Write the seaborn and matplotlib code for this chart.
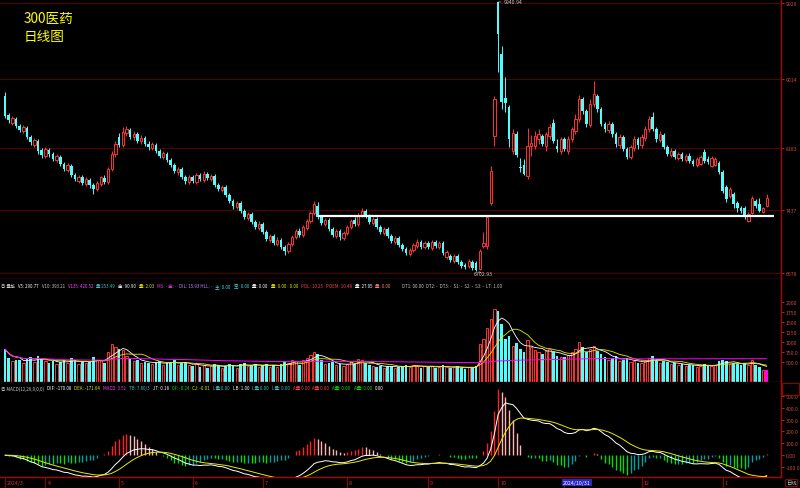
import numpy as np
import pandas as pd
import matplotlib
matplotlib.use("Agg")
import matplotlib.pyplot as plt
import seaborn as sns

# 300医药 日线 (2024/3 ~ 2025/1)
opens = [8809, 8580, 8484, 8532, 8448, 8388, 8424, 8316, 8219, 8267, 8159,
         8087, 8159, 8111, 8039, 8075, 7990, 7918, 7966, 7858, 7786, 7834, 7750, 7798, 7738, 7689, 7750, 7822, 7774, 7930, 8111,
         8316, 8219, 8364, 8400, 8316, 8352, 8267, 8304, 8231, 8183, 8219, 8147, 8075, 8111, 8039, 7978, 7894, 7930, 7834, 7774,
         7834, 7774, 7858, 7798, 7870, 7810, 7846, 7738, 7677, 7714, 7617, 7545, 7473, 7521, 7425, 7340, 7388, 7292, 7220,
         7268, 7172, 7075, 7123, 7027, 7075, 6991, 6943, 7027, 7111, 7184, 7136, 7220, 7304, 7400, 7485, 7352, 7268, 7316, 7208, 7123, 7184, 7099,
         7160, 7232, 7316, 7268, 7376, 7425, 7364, 7280, 7328, 7232, 7160, 7208, 7123, 7051, 7099, 7015, 6967, 6907, 6955, 7003, 7051, 6991,
         7039, 6979, 7051, 6991, 7039, 6871, 6883, 6823, 6883, 6811, 6774, 6762, 6811, 6799, 6726, 7003, 7003, 7521, 8328,
         9941, 9315, 8785, 8677, 8147, 8352, 7954, 7978, 7846, 8207, 8207, 8291, 8328, 8207, 8328, 8484, 8207, 8147,
         8291, 8147, 8291, 8388, 8532, 8773, 8629, 8460, 8713, 8809, 8653, 8472, 8400, 8472, 8352, 8219, 8316, 8171, 8075, 8183, 8291,
         8219, 8304, 8412, 8556, 8412, 8279, 8340, 8195, 8099, 8147, 8063, 8111, 8039, 8087, 8027, 7978, 7990, 8135, 8051, 7966, 7978, 8003,
         7894, 7714, 7605, 7629, 7521, 7461, 7461, 7304, 7400, 7545, 7509, 7413, 7485]
closes = [8568, 8520, 8544, 8448, 8400, 8436, 8316, 8255, 8279, 8147, 8099,
          8171, 8111, 8051, 8087, 7990, 7930, 7978, 7858, 7810, 7834, 7762, 7810, 7738, 7689, 7762, 7834, 7774, 7930, 8111, 8231,
          8219, 8376, 8412, 8316, 8352, 8267, 8304, 8231, 8195, 8231, 8147, 8087, 8123, 8039, 7978, 7906, 7930, 7834, 7786, 7834,
          7786, 7858, 7810, 7870, 7822, 7846, 7738, 7689, 7714, 7617, 7545, 7485, 7521, 7425, 7352, 7388, 7292, 7232, 7268,
          7172, 7087, 7123, 7039, 7075, 6991, 6943, 7027, 7111, 7184, 7136, 7232, 7304, 7400, 7509, 7352, 7280, 7316, 7208, 7136, 7184, 7111, 7160,
          7232, 7304, 7268, 7376, 7425, 7364, 7292, 7328, 7232, 7172, 7208, 7123, 7063, 7099, 7015, 6967, 6919, 6955, 7015, 7051, 6991, 7039,
          6991, 7051, 7003, 7039, 6919, 6931, 6835, 6883, 6811, 6762, 6750, 6823, 6738, 6714, 6943, 7039, 7352, 7906, 8773,
          9556, 8737, 8725, 8291, 8364, 8099, 7942, 7870, 8207, 8243, 8328, 8352, 8231, 8352, 8436, 8267, 8171, 8291,
          8171, 8291, 8412, 8532, 8773, 8629, 8472, 8713, 8833, 8653, 8472, 8412, 8472, 8352, 8231, 8316, 8171, 8075, 8195, 8291, 8219,
          8316, 8412, 8532, 8412, 8291, 8352, 8195, 8111, 8147, 8075, 8111, 8051, 8087, 8027, 7990, 8051, 8075, 8027, 8015, 8063, 8051, 7894,
          7665, 7569, 7689, 7509, 7461, 7425, 7352, 7388, 7581, 7485, 7425, 7461, 7581]
highs = [8857, 8605, 8568, 8556, 8472, 8460, 8448, 8340, 8304, 8291, 8183,
         8195, 8183, 8135, 8111, 8099, 8015, 8003, 7990, 7882, 7858, 7858, 7834, 7822, 7762, 7786, 7846, 7858, 7954, 8147, 8267,
         8364, 8436, 8448, 8424, 8388, 8376, 8340, 8328, 8267, 8255, 8243, 8171, 8147, 8135, 8063, 8003, 7954, 7954, 7858, 7858,
         7858, 7882, 7882, 7906, 7894, 7870, 7870, 7762, 7738, 7738, 7641, 7569, 7545, 7545, 7449, 7413, 7413, 7316, 7304,
         7292, 7196, 7148, 7148, 7111, 7099, 7015, 7051, 7136, 7208, 7220, 7256, 7328, 7425, 7545, 7533, 7376, 7340, 7340, 7232, 7208, 7208, 7184,
         7256, 7328, 7352, 7400, 7461, 7449, 7388, 7352, 7352, 7256, 7232, 7232, 7148, 7123, 7123, 7039, 6991, 6979, 7039, 7087, 7075, 7063,
         7063, 7075, 7075, 7063, 7063, 6955, 6907, 6907, 6907, 6835, 6799, 6847, 6835, 6823, 6967, 7172, 7376, 7966, 8809,
         9941, 9411, 9038, 8701, 8412, 8388, 8063, 8051, 8424, 8340, 8388, 8412, 8352, 8376, 8472, 8532, 8291, 8316,
         8316, 8328, 8436, 8592, 8821, 8797, 8653, 8773, 8990, 8833, 8677, 8496, 8508, 8496, 8376, 8352, 8340, 8195, 8219, 8328, 8316,
         8352, 8448, 8568, 8617, 8436, 8388, 8364, 8219, 8183, 8171, 8135, 8135, 8111, 8123, 8051, 8075, 8099, 8171, 8087, 8087, 8075, 8027,
         7918, 7738, 7714, 7653, 7545, 7485, 7485, 7413, 7605, 7569, 7581, 7473, 7629]
lows = [8544, 8484, 8460, 8424, 8376, 8364, 8291, 8219, 8195, 8111, 8063,
        8063, 8075, 8027, 8015, 7966, 7906, 7894, 7834, 7786, 7762, 7738, 7726, 7702, 7629, 7665, 7726, 7750, 7750, 7906, 8075,
        8195, 8195, 8328, 8291, 8279, 8243, 8231, 8207, 8159, 8159, 8123, 8063, 8051, 8015, 7954, 7882, 7858, 7810, 7750, 7750,
        7762, 7750, 7786, 7774, 7798, 7786, 7714, 7665, 7653, 7593, 7521, 7449, 7449, 7400, 7328, 7316, 7268, 7208, 7196,
        7148, 7063, 7051, 7015, 7003, 6967, 6895, 6919, 7003, 7087, 7111, 7111, 7196, 7280, 7376, 7328, 7256, 7244, 7184, 7111, 7099, 7075, 7075,
        7136, 7208, 7244, 7244, 7352, 7340, 7268, 7256, 7208, 7148, 7136, 7099, 7039, 7027, 6991, 6943, 6895, 6883, 6931, 6979, 6967, 6967,
        6967, 6955, 6979, 6967, 6895, 6847, 6811, 6799, 6786, 6738, 6726, 6738, 6714, 6703, 6714, 6979, 6967, 7497, 8207,
        9098, 8653, 8617, 8195, 8111, 8075, 7894, 7858, 7810, 8087, 8171, 8231, 8207, 8147, 8291, 8243, 8135, 8111,
        8147, 8111, 8255, 8352, 8496, 8592, 8436, 8436, 8677, 8617, 8448, 8376, 8364, 8316, 8195, 8183, 8147, 8051, 8051, 8147, 8171,
        8183, 8267, 8376, 8388, 8255, 8255, 8171, 8087, 8075, 8051, 8039, 8027, 8015, 8003, 7966, 7954, 7978, 8003, 7990, 7954, 7966, 7870,
        7641, 7533, 7581, 7461, 7413, 7400, 7328, 7292, 7388, 7461, 7413, 7400, 7473]
volumes = [820, 610, 520, 560, 540, 470, 580, 620, 510, 640, 590,
           520, 480, 530, 450, 510, 560, 470, 590, 540, 460, 520, 480, 500, 620, 560, 540, 470, 760, 940, 880,
           820, 790, 640, 580, 520, 540, 480, 510, 470, 450, 490, 520, 430, 470, 510, 540, 420, 480, 500, 420,
           400, 450, 380, 430, 360, 390, 440, 420, 350, 400, 460, 430, 360, 440, 480, 400, 420, 450, 380,
           420, 460, 380, 430, 370, 440, 520, 480, 560, 520, 430, 540, 600, 680, 760, 700, 560, 450, 480, 500, 420, 440, 400,
           460, 520, 440, 580, 560, 470, 430, 400, 380, 410, 360, 390, 410, 350, 380, 400, 420, 380, 430, 410, 360, 390,
           380, 410, 350, 370, 420, 380, 340, 370, 390, 350, 330, 380, 360, 400, 960, 1080, 1350, 1580, 1830,
           1780, 1460, 1080, 1150, 900, 980, 820, 760, 1050, 880, 800, 760, 700, 780, 820, 760, 640, 620,
           620, 680, 760, 820, 1000, 880, 760, 820, 900, 780, 700, 620, 560, 600, 640, 520, 560, 600, 500, 520, 470,
           480, 520, 600, 640, 560, 480, 520, 500, 440, 470, 420, 450, 400, 430, 420, 380, 400, 450, 390, 410, 430, 520,
           560, 520, 440, 480, 450, 420, 470, 430, 560, 420, 380, 300, 290]

month_labels = ["2024/3", "4", "5", "6", "7", "8", "9", "10", "11", "12", "1"]
month_days = [11, 20, 20, 19, 23, 22, 19, 18, 21, 22, 13]
cursor_label = "2024/10/31"
price_ticks = [9929, 9014, 8183, 7437, 6678]
vol_ticks = [500, 750, 1000, 1250, 1500, 1750, 2000]
vol_tick_labels = ["500.0", "750.0", "1000", "1250", "1500", "1750", "2000"]
macd_ticks = [-100, 0, 100, 200, 300, 400, 500]
macd_tick_labels = ["-100.0", "0.00", "100.0", "200.0", "300.0", "400.0", "500.0"]
support_level = 7364
high_label = "9940.94"
low_label = "6702.93"

RED = "#ff3232"
CYAN = "#54fcfc"
GRID = "#5a0000"
AXRED = "#b00000"
LBL = "#c84848"

df = pd.DataFrame({"open": opens, "close": closes, "high": highs,
                   "low": lows, "vol": volumes})
df["x"] = np.arange(len(df))
up = (df["close"] >= df["open"]).values

ema12 = df["close"].ewm(span=12, adjust=False).mean()
ema26 = df["close"].ewm(span=26, adjust=False).mean()
df["dif"] = ema12 - ema26
df["dea"] = df["dif"].ewm(span=9, adjust=False).mean()
df["macd"] = 2 * (df["dif"] - df["dea"])
df["v5"] = df["vol"].rolling(5, min_periods=1).mean()
df["v10"] = df["vol"].rolling(10, min_periods=1).mean()
df["v135"] = df["vol"].rolling(135, min_periods=1).mean()

sns.set_style("dark", {"axes.facecolor": "black", "figure.facecolor": "black"})
plt.rcParams["font.family"] = ["Noto Sans CJK SC", "DejaVu Sans"]

W, H = 800, 489
fig = plt.figure(figsize=(8, 4.89), dpi=100)
fig.patch.set_facecolor("black")


def frame(top, bottom):
    return fig.add_axes([0, 1 - bottom / H, 781 / W, (bottom - top) / H])


axp = frame(0, 280)
axv = frame(280, 383)
axm = frame(383, 478)

x0 = -5 / 3.68
x1 = 776 / 3.68
for ax in (axp, axv, axm):
    ax.set_facecolor("black")
    ax.grid(False)
    for s in ("left", "top"):
        ax.spines[s].set_visible(False)
    for s in ("right", "bottom"):
        ax.spines[s].set_color(AXRED)
        ax.spines[s].set_linewidth(1.0)
    ax.yaxis.tick_right()
    ax.tick_params(axis="y", colors=LBL, labelsize=3.7, length=2, width=0.5,
                   pad=1.5, labelcolor=LBL)

# ---- 价格 K 线 ----
axp.set_ylim(9977 - 12.04 * 280, 9977)
axp.set_yticks(price_ticks)
axp.set_yticklabels([str(t) for t in price_ticks])
for t in price_ticks:
    axp.axhline(t, color=GRID, lw=0.7, zorder=0)

dn = ~up
bl = np.minimum(df["open"], df["close"]).values
bh = np.maximum(np.abs(df["close"] - df["open"]).values, 8)
xs = df["x"].values
axp.vlines(xs[dn], df["low"].values[dn], df["high"].values[dn], color=CYAN, lw=0.7, zorder=2)
axp.bar(xs[dn], bh[dn], bottom=bl[dn], width=0.72, color=CYAN, lw=0, zorder=3)
axp.vlines(xs[up], df["low"].values[up], df["high"].values[up], color=RED, lw=0.7, zorder=2)
axp.bar(xs[up], bh[up], bottom=bl[up], width=0.62, facecolor="black",
        edgecolor=RED, lw=0.7, zorder=3)

axp.hlines(support_level, 85, 209, color="white", lw=1.6, zorder=4)

ih = int(np.argmax(df["high"].values))
il = int(np.argmin(df["low"].values))
axp.annotate(high_label, xy=(ih, df["high"][ih]), xytext=(ih + 1.6, df["high"][ih]),
             color="#c8c8c8", fontsize=3.8, va="center",
             arrowprops=dict(arrowstyle="-", color="#c8c8c8", lw=0.5))
axp.annotate(low_label, xy=(il, df["low"][il]), xytext=(il - 0.5, df["low"][il] - 30),
             color="#c8c8c8", fontsize=3.8, va="center",
             arrowprops=dict(arrowstyle="-", color="#c8c8c8", lw=0.5))

fig.text(24 / W, 1 - 12 / H, "300医药", color="#ffff00", fontsize=9.8, va="top")
fig.text(24 / W, 1 - 30 / H, "日线图", color="#ffff00", fontsize=9.8, va="top")

# ---- 成交量 ----
axv.set_ylim(0, 25 * 103)
axv.set_yticks(vol_ticks)
axv.set_yticklabels(vol_tick_labels)
vv = df["vol"].values
last = xs == xs[-1]
axv.bar(xs[dn], vv[dn], width=0.72, color=CYAN, lw=0, zorder=2)
axv.bar(xs[up & ~last], vv[up & ~last], width=0.62, facecolor="black", edgecolor=RED, lw=0.7, zorder=2)
axv.bar(xs[last], vv[last], width=0.72, color="#ff00ff", lw=0, zorder=2)
sns.lineplot(data=df, x="x", y="v5", ax=axv, color="white", lw=0.6, zorder=4)
sns.lineplot(data=df, x="x", y="v10", ax=axv, color="#e8e800", lw=0.6, zorder=4)
sns.lineplot(data=df, x="x", y="v135", ax=axv, color="#ff00ff", lw=0.7, zorder=4)

# ---- MACD ----
axm.set_ylim(-100 - 10 * 8.45, 500 + 14 * 8.45)
axm.set_yticks(macd_ticks)
axm.set_yticklabels(macd_tick_labels)
mv = df["macd"].values
prev = np.r_[mv[0], mv[:-1]]
cols = np.where(mv >= 0, np.where(mv >= prev, "#ff2020", "#ffb4b4"),
                np.where(mv <= prev, "#00e000", "#00a0a0"))
axm.vlines(xs, 0, mv, colors=cols, lw=1.0, zorder=2)
sns.lineplot(data=df, x="x", y="dif", ax=axm, color="white", lw=0.7, zorder=4)
sns.lineplot(data=df, x="x", y="dea", ax=axm, color="#e8e800", lw=0.7, zorder=4)

for ax in (axp, axv, axm):
    ax.set_xlim(x0, x1)
    ax.set_xticks([])
    ax.set_xlabel("")
    ax.set_ylabel("")

# ---- 指标说明行 (依次排开) ----
renderer = fig.canvas.get_renderer()


def row(y_px, x_start, items, size=3.2, gap=2.0):
    xp = x_start
    for s, c in items:
        t = fig.text(xp / W, 1 - y_px / H, s, color=c, fontsize=size, va="center", ha="left")
        xp = t.get_window_extent(renderer).x1 + gap
    return xp


end = row(287, 1, [("◎ 量能", "#c8c8c8"), ("V5: 290.77", "#ffffff"), ("V10: 393.21", "#c8c8c8"),
                   ("V135: 420.52", "#ff40ff"), ("量 253.49", "#40c0c0"), ("金: 90.90", "#ffffff"),
                   ("量: 2.03", "#e8e800"), ("MS: - 金: -", "#e040e0"), ("DIL: 15.93 HLL: -", "#c080ff"),
                   ("主: 0.00", "#40e0e0"), ("空: 0.00", "#40e0e0"), ("量: 0.00", "#ffffff"),
                   ("量: 0.00 : 0.00", "#e8e800"), ("POL: 10.25", "#ff4040"), ("POEM: 10.48", "#ff4040"),
                   ("量: 27.05", "#ffffff"), ("量: 0.00", "#ff8080")], gap=3.0)
row(287, max(end, 402), [("DT1: 00.00  DT2: -  DT3: -  S1: -  S2: -  S3: -  LT: 1.00", "#c8c8c8")])
row(389, 1, [("◎ MACD(12,26,9,0,0)", "#c8c8c8"), ("DIF: -170.08", "#ffffff"), ("DEA: -171.64", "#e8e800"),
             ("MACD: 3.51", "#ff40ff"), ("TB: 7.80/3", "#40c0c0"), ("JT: 0.18", "#ffffff"),
             ("0F: -0.24", "#00e000"), ("CJ: -0.01", "#e8e800"), ("L量 0.00", "#40c0c0"),
             ("LB: 1.00", "#ffffff"), ("L量 0.00", "#40c0c0"), ("L量: 0.00", "#40c0c0"),
             ("A量 0.00", "#ff4040"), ("A量 0.00", "#ff4040"), ("A量: 0.00", "#00e000"),
             ("A量: 0.00", "#00e000"), ("0.00", "#ffffff")], gap=3.0)

# ---- 日期轴 ----
starts = np.r_[0, np.cumsum(month_days)[:-1]]
for lab, s in zip(month_labels, starts):
    xf = (5 + 3.68 * s) / W
    fig.add_artist(plt.Line2D([xf, xf], [1 - 479 / H, 1 - 488 / H], color=AXRED, lw=0.6))
    if abs(5 + 3.68 * s - 577) < 20:
        continue  # 被光标日期框遮住
    fig.text(xf + 2 / W, 1 - 483.5 / H, lab, color="#e03030", fontsize=3.8, va="center", ha="left")
fig.text(577 / W, 1 - 483.5 / H, cursor_label, color="#ffffff", fontsize=3.8, va="center", ha="center",
         bbox=dict(boxstyle="square,pad=0.15", fc="#2828c8", ec="none"))
fig.text(791 / W, 1 - 483.5 / H, "日线", color="#c8c8c8", fontsize=3.8, va="center", ha="center",
         bbox=dict(boxstyle="square,pad=0.15", fc="black", ec=AXRED, lw=0.6))
fig.add_artist(plt.Rectangle((782 / W, 1 - 396 / H), 17 / W, 12 / H, fill=False, ec=AXRED, lw=0.6))

fig.savefig("out.png", dpi=100, facecolor="black")
